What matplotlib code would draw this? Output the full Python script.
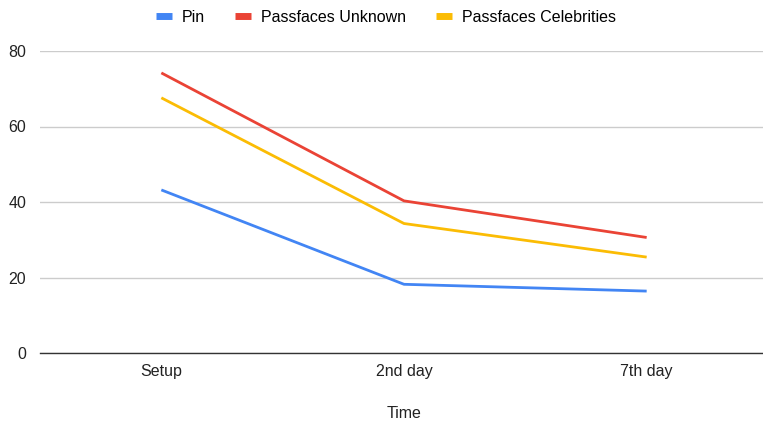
import matplotlib
matplotlib.use("Agg")
import matplotlib.pyplot as plt
from matplotlib.lines import Line2D

# Recall rates over time per authentication scheme
categories = ["Setup", "2nd day", "7th day"]
pin = [43.2, 18.2, 16.4]
passfaces_unknown = [74.2, 40.3, 30.6]
passfaces_celebrities = [67.6, 34.3, 25.4]

series = [
    ("Pin", pin, "#4285F4"),
    ("Passfaces Unknown", passfaces_unknown, "#EA4335"),
    ("Passfaces Celebrities", passfaces_celebrities, "#FBBC04"),
]

plt.rcParams["font.family"] = ["Liberation Sans", "DejaVu Sans"]
FS = 11.5

fig = plt.figure(figsize=(7.63, 4.22), dpi=100)
ax = fig.add_axes([40 / 763, 69 / 422, 728 / 763, 302 / 422])

x = range(len(categories))
for name, vals, color in series:
    ax.plot(x, vals, color=color, linewidth=2.0, solid_capstyle="butt")

ax.set_xlim(-0.5, 2.5)
ax.set_ylim(0, 80)
ax.set_yticks([0, 20, 40, 60, 80])
ax.set_xticks(list(x))
ax.set_xticklabels(categories)
ax.tick_params(axis="both", length=0, labelsize=FS, colors="#222222")
ax.tick_params(axis="y", pad=10)
ax.tick_params(axis="x", pad=8)
ax.grid(axis="y", color="#cccccc", linewidth=1)
ax.set_axisbelow(True)
for s in ["top", "right", "left"]:
    ax.spines[s].set_visible(False)
ax.spines["bottom"].set_color("#333333")
ax.spines["bottom"].set_linewidth(1)

ax.set_xlabel("Time", fontsize=FS, color="#222222", labelpad=19)

handles = [Line2D([0], [0], color=c, linewidth=5, solid_capstyle="butt")
           for _, _, c in series]
fig.legend(handles, [n for n, _, _ in series], loc="center",
           bbox_to_anchor=(386 / 763, 1 - 17 / 422), ncol=3, frameon=False,
           fontsize=FS, handlelength=1.0, handletextpad=0.6, columnspacing=1.9)

fig.savefig("out.png", dpi=100)
